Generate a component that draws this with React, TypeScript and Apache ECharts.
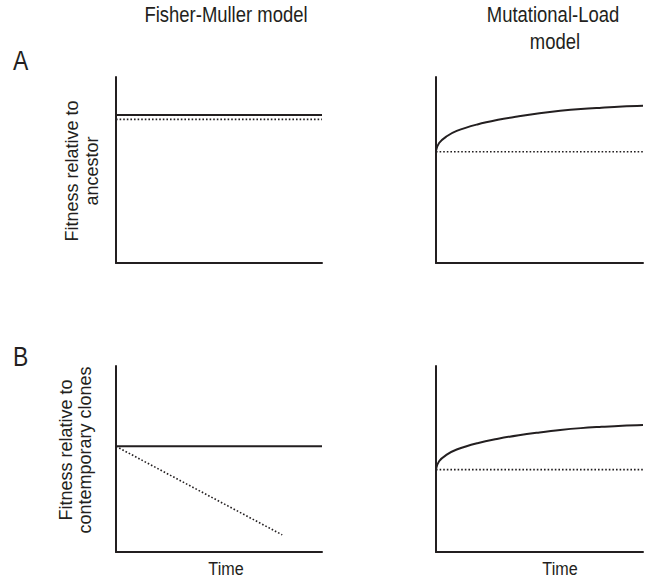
import React, { useEffect, useRef } from "react";
import * as echarts from "echarts";

// ---- texts ----
const titleLeft = "Fisher-Muller model";
const titleRight = ["Mutational-Load", "model"];
const panelLetters = ["A", "B"];
const yLabelA = ["Fitness relative to", "ancestor"];
const yLabelB = ["Fitness relative to", "contemporary clones"];
const xLabel = "Time";

// ---- data (x: time 0..10, y: fitness 0..1) ----
const flatX = [0, 10];
// A, Fisher-Muller
const aLeftSolid = [0.796, 0.796];
const aLeftDotted = [0.772, 0.772];
// A, Mutational-Load
const curveX = [0, 0.15, 0.5, 1, 2, 3, 4, 5, 6, 7, 8, 9, 10];
const aRightSolid = [0.603, 0.645, 0.68, 0.71, 0.745, 0.77, 0.789, 0.805, 0.818, 0.828, 0.835, 0.841, 0.845];
const aRightDotted = [0.598, 0.598];
// B, Fisher-Muller
const bLeftSolid = [0.568, 0.568];
const bLeftDottedX = [0, 8.07];
const bLeftDotted = [0.568, 0.092];
// B, Mutational-Load
const bRightSolid = [0.446, 0.488, 0.522, 0.551, 0.585, 0.609, 0.628, 0.643, 0.656, 0.666, 0.673, 0.679, 0.683];
const bRightDotted = [0.443, 0.443];

const INK = "#231f20";
const FONT = "'Liberation Sans', Arial, Helvetica, sans-serif";

const zip = (xs: number[], ys: number[]) => xs.map((x, i) => [x, ys[i]]);

export default function App() {
  const ref = useRef<HTMLDivElement>(null);

  useEffect(() => {
    if (!ref.current) return;
    const chart = echarts.init(ref.current, undefined, { renderer: "svg" });

    const grids = [
      { left: 116, top: 77, width: 206, height: 186 },
      { left: 436, top: 77, width: 207, height: 186 },
      { left: 116, top: 366, width: 206, height: 186 },
      { left: 436, top: 366, width: 207, height: 186 },
    ];

    const axisLine = { show: true, onZero: false, lineStyle: { color: INK, width: 2 } };
    const xAxes = grids.map((_, i) => ({
      type: "value",
      gridIndex: i,
      min: 0,
      max: 10,
      axisLine,
      axisTick: { show: false },
      axisLabel: { show: false },
      splitLine: { show: false },
    }));
    const yAxes = grids.map((_, i) => ({
      type: "value",
      gridIndex: i,
      min: 0,
      max: 1,
      axisLine,
      axisTick: { show: false },
      axisLabel: { show: false },
      splitLine: { show: false },
    }));

    const solid = { color: INK, width: 2, type: "solid" };
    const dotted = { color: INK, width: 1.6, type: [1.6, 2] };
    const mk = (i: number, data: number[][], style: any, smooth: number | false = false) => ({
      type: "line",
      xAxisIndex: i,
      yAxisIndex: i,
      data,
      symbol: "none",
      showSymbol: false,
      smooth,
      lineStyle: style,
      silent: true,
      z: style.type === "solid" ? 3 : 2,
    });

    const series = [
      mk(0, zip(flatX, aLeftSolid), solid),
      mk(0, zip(flatX, aLeftDotted), dotted),
      mk(1, zip(curveX, aRightSolid), solid, 0.4),
      mk(1, zip(flatX, aRightDotted), dotted),
      mk(2, zip(flatX, bLeftSolid), solid),
      mk(2, zip(bLeftDottedX, bLeftDotted), dotted),
      mk(3, zip(curveX, bRightSolid), solid, 0.4),
      mk(3, zip(flatX, bRightDotted), dotted),
    ];

    const txt = (
      text: string,
      x: number,
      y: number,
      size: number,
      sx = 1,
      align = "center",
      rot = 0,
      lh?: number
    ) => ({
      type: "text",
      x,
      y,
      rotation: rot,
      scaleX: sx,
      silent: true,
      style: {
        text,
        fill: INK,
        font: `${size}px ${FONT}`,
        textAlign: align,
        textVerticalAlign: "middle",
        lineHeight: lh ?? size,
      },
    });

    const graphic = [
      txt(titleLeft, 226, 14, 22, 0.84),
      txt(titleRight[0], 553, 14, 22, 0.84),
      txt(titleRight[1], 555, 41, 22, 0.84),
      txt(panelLetters[0], 13, 60, 27, 0.85, "left"),
      txt(panelLetters[1], 13, 356, 27, 0.85, "left"),
      txt(yLabelA.join("\n"), 82, 171, 18, 1, "center", Math.PI / 2, 20),
      txt(yLabelB.join("\n"), 75, 450, 18, 1, "center", Math.PI / 2, 19),
      txt(xLabel, 226, 569, 19, 0.85),
      txt(xLabel, 560, 569, 19, 0.85),
    ];

    chart.setOption({
      animation: false,
      backgroundColor: "#ffffff",
      grid: grids,
      xAxis: xAxes,
      yAxis: yAxes,
      series,
      graphic,
    });

    return () => chart.dispose();
  }, []);

  return (
    <div
      ref={ref}
      style={{ position: "fixed", left: 0, top: 0, width: 647, height: 579, background: "#fff" }}
    />
  );
}
